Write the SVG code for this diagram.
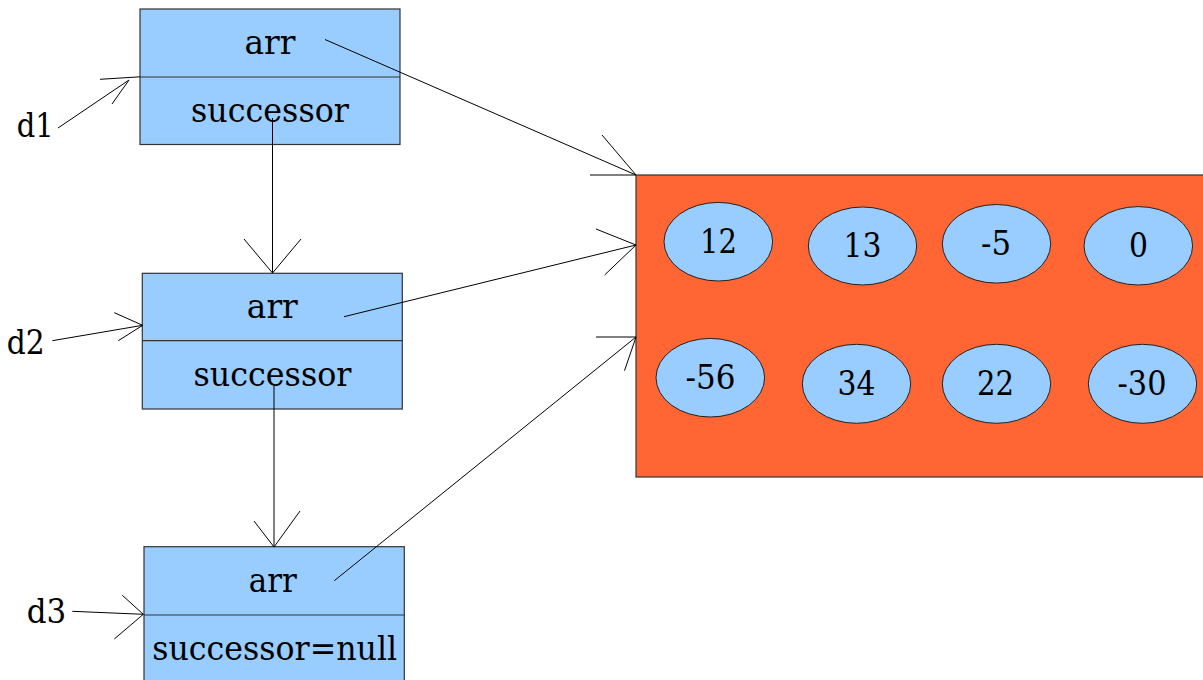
<svg xmlns="http://www.w3.org/2000/svg" width="1203" height="680" viewBox="0 0 1203 680">
<style>
.box{fill:#99ccff;stroke:#333;stroke-width:1.2}
.div{stroke:#333;stroke-width:1.2}
.arr{fill:#ff6633;stroke:#333;stroke-width:1.2}
.cell{fill:#99ccff;stroke:#222;stroke-width:1}
.ln{fill:none;stroke:#000;stroke-width:1}
.t{font-family:"DejaVu Serif","Liberation Serif",serif;font-size:34px;fill:#000}
.n{font-family:"DejaVu Serif","Liberation Serif",serif;font-size:33px;fill:#000}
</style>
<rect width="1203" height="680" fill="#fff"/>
<g id="array">
<rect class="arr" x="636" y="175" width="620" height="302"/>
<ellipse class="cell" cx="718.3" cy="241.7" rx="54.3" ry="39.3"/>
<ellipse class="cell" cx="862.5" cy="246" rx="54.2" ry="39"/>
<ellipse class="cell" cx="996.5" cy="243.8" rx="54.2" ry="39.3"/>
<ellipse class="cell" cx="1138.3" cy="245.8" rx="54.3" ry="39.2"/>
<ellipse class="cell" cx="710.3" cy="377.7" rx="54.3" ry="39.3"/>
<ellipse class="cell" cx="856.5" cy="383.8" rx="54.2" ry="39.5"/>
<ellipse class="cell" cx="996.5" cy="383.8" rx="54.2" ry="39.5"/>
<ellipse class="cell" cx="1142.5" cy="383.8" rx="54.2" ry="39.5"/>
<text class="n" x="700" y="253.3" textLength="37" lengthAdjust="spacingAndGlyphs">12</text>
<text class="n" x="843.5" y="257" textLength="38" lengthAdjust="spacingAndGlyphs">13</text>
<text class="n" x="981" y="255" textLength="30" lengthAdjust="spacingAndGlyphs">-5</text>
<text class="n" x="1129" y="256.7" textLength="19" lengthAdjust="spacingAndGlyphs">0</text>
<text class="n" x="685.5" y="389" textLength="50" lengthAdjust="spacingAndGlyphs">-56</text>
<text class="n" x="837.5" y="395" textLength="38" lengthAdjust="spacingAndGlyphs">34</text>
<text class="n" x="977" y="395" textLength="37" lengthAdjust="spacingAndGlyphs">22</text>
<text class="n" x="1117.5" y="395" textLength="49" lengthAdjust="spacingAndGlyphs">-30</text>
</g>
<g id="node1">
<rect class="box" x="140" y="9" width="260" height="135.5"/>
<line class="div" x1="140" y1="77" x2="400" y2="77"/>
<text class="t" x="244.5" y="54.3" textLength="51" lengthAdjust="spacingAndGlyphs">arr</text>
<text class="t" x="191" y="121.7" textLength="158" lengthAdjust="spacingAndGlyphs">successor</text>
</g>
<g id="node2">
<rect class="box" x="142.3" y="273.3" width="260" height="135.7"/>
<line class="div" x1="142.3" y1="340.7" x2="402.3" y2="340.7"/>
<text class="t" x="246.8" y="318.3" textLength="51" lengthAdjust="spacingAndGlyphs">arr</text>
<text class="t" x="193.5" y="386" textLength="158" lengthAdjust="spacingAndGlyphs">successor</text>
</g>
<g id="node3">
<rect class="box" x="144" y="546.7" width="260.3" height="150"/>
<line class="div" x1="144" y1="615" x2="404.3" y2="615"/>
<text class="t" x="248.8" y="592.3" textLength="48" lengthAdjust="spacingAndGlyphs">arr</text>
<text class="t" x="152.2" y="660" textLength="245" lengthAdjust="spacingAndGlyphs">successor=null</text>
</g>
<g id="labels">
<text class="t" x="16.8" y="137.3" textLength="37" lengthAdjust="spacingAndGlyphs">d1</text>
<text class="t" x="6.8" y="354.3" textLength="38" lengthAdjust="spacingAndGlyphs">d2</text>
<text class="t" x="26.8" y="623.3" textLength="39.5" lengthAdjust="spacingAndGlyphs">d3</text>
</g>
<g id="connectors">
<path class="ln" d="M58,128 L129,80 M100,79.3 L140,76.8 M112,104 L129,80"/>
<path class="ln" d="M325,39.5 L636,175 M590,175 L636,175 L602,135"/>
<path class="ln" d="M344,316.7 L636,245 M596,229 L636,245 L604.6,275"/>
<path class="ln" d="M334.3,580.7 L636,337 M596,337 L636,337 L624.5,370.7"/>
<path class="ln" d="M272.5,118 L272.5,273 M244,239 L272.5,273 L301,239"/>
<path class="ln" d="M274,386 L274,547 M254,521 L274,547 L300,511"/>
<path class="ln" d="M52.3,340.7 L142.7,325.3 M114.3,312.7 L142.7,325.3 L118.3,340.7"/>
<path class="ln" d="M72.3,611.3 L143.3,614.3 M122.3,595.3 L143.3,614.3 L114.3,639"/>
</g>
</svg>
